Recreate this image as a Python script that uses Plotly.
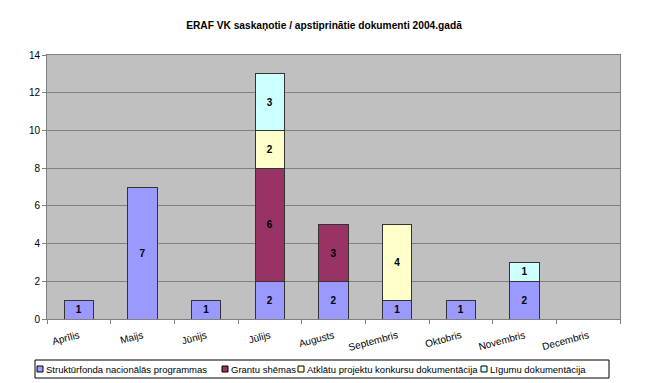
import plotly.graph_objects as go

months = ["Aprīlis", "Maijs", "Jūnijs", "Jūlijs", "Augusts", "Septembris",
          "Oktobris", "Novembris", "Decembris"]
series_names = ["Struktūrfonda nacionālās programmas", "Grantu shēmas",
                "Atklātu projektu konkursu dokumentācija", "Līgumu dokumentācija"]
strukturfonda = [1, 7, 1, 2, 2, 1, 1, 2, 0]
grantu = [0, 0, 0, 6, 3, 0, 0, 0, 0]
atklatu = [0, 0, 0, 2, 0, 4, 0, 0, 0]
ligumu = [0, 0, 0, 3, 0, 0, 0, 1, 0]
y_ticks = [0, 2, 4, 6, 8, 10, 12, 14]

colors = ["#9999FF", "#993366", "#FFFFCC", "#CCFFFF"]
FONT = "Arial, 'Liberation Sans', sans-serif"

fig = go.Figure()
for name, vals, col in zip(series_names, [strukturfonda, grantu, atklatu, ligumu], colors):
    fig.add_trace(go.Bar(
        x=months,
        y=[v if v else None for v in vals],
        name=name,
        marker=dict(color=col, line=dict(color="#333333", width=1)),
        text=[str(v) if v else "" for v in vals],
        textposition="inside",
        insidetextanchor="middle",
        textangle=0,
        textfont=dict(family=FONT, size=10, color="black", weight="bold"),
        constraintext="none",
        showlegend=False,
    ))

# plot area in pixels (from reference)
PX0, PX1, PY0, PY1 = 47, 620, 319, 55
W, H = 650, 383

def px(x):
    return (x - PX0) / (PX1 - PX0)

def py(y):
    return (PY0 - y) / (PY0 - PY1)

shapes = [dict(type="rect", xref="paper", yref="paper",
               x0=px(35), x1=px(609), y0=py(378), y1=py(360),
               line=dict(color="black", width=1), fillcolor="white", layer="above")]
annotations = []
sq_x = [37, 222, 298, 481]
tx_x = [44, 229, 305, 488]
for name, col, sx, tx in zip(series_names, colors, sq_x, tx_x):
    shapes.append(dict(type="rect", xref="paper", yref="paper",
                       x0=px(sx), x1=px(sx + 6), y0=py(372), y1=py(366),
                       line=dict(color="black", width=1), fillcolor=col, layer="above"))
    annotations.append(dict(xref="paper", yref="paper", x=px(tx), y=py(369.5),
                            xanchor="left", yanchor="middle", showarrow=False,
                            text=name, font=dict(family=FONT, size=9.5, color="black")))

fig.update_layout(
    width=W, height=H,
    margin=dict(l=PX0, r=W - PX1, t=PY1, b=H - PY0, pad=0),
    paper_bgcolor="white",
    plot_bgcolor="#C0C0C0",
    barmode="stack",
    bargap=0.54,
    font=dict(family=FONT, size=10, color="black"),
    title=dict(text="<b>ERAF VK saskaņotie / apstiprinātie dokumenti 2004.gadā</b>",
               xref="container", x=324 / W, xanchor="center",
               yref="container", y=1 - 25 / H, yanchor="middle",
               font=dict(family=FONT, size=10.2, color="black")),
    xaxis=dict(
        type="category", categoryorder="array", categoryarray=months,
        showline=True, linecolor="#808080", linewidth=1, mirror=True,
        ticks="outside", tickson="boundaries", ticklen=4, tickcolor="#808080",
        tickangle=-15, showgrid=False, ticklabelstandoff=6,
        tickfont=dict(family=FONT, size=10, color="black"),
    ),
    yaxis=dict(
        range=[0, 14], tickvals=y_ticks,
        showline=True, linecolor="#808080", linewidth=1, mirror=True,
        ticks="outside", ticklen=4, tickcolor="#808080",
        showgrid=True, gridcolor="#808080", gridwidth=1,
        zeroline=False,
        tickfont=dict(family=FONT, size=10, color="black"),
    ),
    shapes=shapes,
    annotations=annotations,
)

fig.write_html("out.html")
